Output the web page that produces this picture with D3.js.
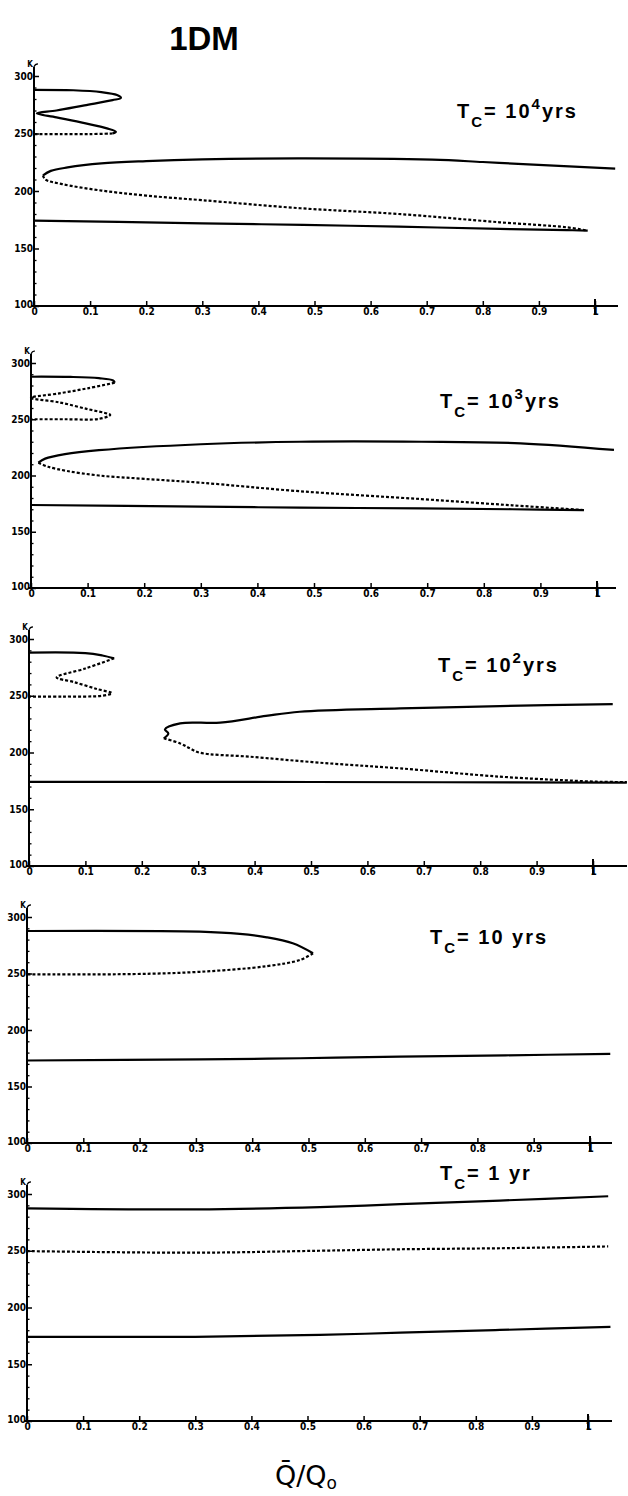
<!DOCTYPE html>
<html>
<head>
<meta charset="utf-8">
<script src="https://cdn.jsdelivr.net/npm/d3@7"></script>
<style>
  body { margin: 0; background: #fff; }
  svg { display: block; }
</style>
</head>
<body>
<div id="chart"></div>
<script>
// axes shared by the five panels
const xTicks = [0, 0.1, 0.2, 0.3, 0.4, 0.5, 0.6, 0.7, 0.8, 0.9, 1];
const xTickLabels = ["0", "0.1", "0.2", "0.3", "0.4", "0.5", "0.6", "0.7", "0.8", "0.9", "1"];
const yTicks = [100, 150, 200, 250, 300];
const yMinorTicks = [110, 120, 130, 140, 160, 170, 180, 190, 210, 220, 230, 240, 260, 270, 280, 290];

// T_c labels
const tcBase = ["10", "10", "10", "10", "1"];
const tcExp = ["4", "3", "2", "", ""];
const tcUnit = ["yrs", "yrs", "yrs", " yrs", " yr"];

// curves: [Q/Q0, T (K)]
// T_c = 10^4 yrs
const p1TopSolid = [[0,288],[0.07,287.6],[0.12,286],[0.148,283.5],[0.155,281],[0.14,279],[0.09,274.5],[0.04,270],[0.005,267.5],[0.04,264],[0.09,259],[0.13,254.5],[0.146,251.5],[0.14,250]];
const p1TopDashed = [[0.14,250],[0.1,249.5],[0.05,249.5],[0,249.5]];
const p1UpperSolid = [[0.016,213.5],[0.03,217.5],[0.06,220.5],[0.12,224],[0.2,226],[0.3,227.5],[0.47,228.4],[0.71,227.3],[0.8,225.2],[0.89,222.9],[1.036,219.4]];
const p1MidDashed = [[0.016,213.5],[0.02,210],[0.05,206],[0.12,200.4],[0.2,196],[0.3,192],[0.475,185],[0.65,180],[0.83,172.8],[0.95,168.4],[0.987,165.5]];
const p1LowerSolid = [[0,174.2],[0.15,173.2],[0.3,171.9],[0.48,170.5],[0.65,169],[0.83,167],[0.95,166],[0.987,165.5]];

// T_c = 10^3 yrs
const p2TopSolid = [[0,287.8],[0.07,287.6],[0.12,286.5],[0.145,284.5],[0.148,282.5]];
const p2TopDashed = [[0.148,282.5],[0.1,277.5],[0.05,273],[0,269],[0.05,265],[0.1,259],[0.135,255],[0.14,253.8],[0.12,250.3],[0.06,250],[0,250]];
const p2UpperSolid = [[0.013,211.4],[0.025,215],[0.06,219],[0.12,222.5],[0.3,227.8],[0.475,230],[0.69,230],[0.865,228.6],[1.03,222.7]];
const p2MidDashed = [[0.013,211.4],[0.03,207.8],[0.064,204],[0.12,200],[0.2,197],[0.3,193.6],[0.475,186],[0.69,179],[0.85,173.5],[0.977,169.3]];
const p2LowerSolid = [[0,173.8],[0.3,172.4],[0.475,171.4],[0.69,170.8],[0.85,170],[0.977,169.3]];

// T_c = 10^2 yrs
const p3TopSolid = [[0,288],[0.1,287.6],[0.13,285.5],[0.151,283]];
const p3TopDashed = [[0.151,283],[0.1,274],[0.049,266.2],[0.08,262],[0.12,256],[0.147,252.2],[0.13,250],[0.06,249.3],[0,249.3]];
const p3UpperSolid = [[0.239,212.5],[0.247,216.8],[0.241,220.3],[0.268,225.7],[0.339,226.3],[0.42,232.2],[0.48,235.9],[0.658,238.8],[0.835,240.9],[1.035,242.7]];
const p3MidDashed = [[0.239,212.5],[0.268,208],[0.285,203.7],[0.303,199.8],[0.392,196.3],[0.516,191],[0.658,186],[0.835,178.7],[0.95,175.5],[1.012,174.2],[1.06,174]];
const p3LowerSolid = [[0,174.2],[0.5,174],[1.06,173.4]];

// T_c = 10 yrs
const p4TopSolid = [[0,287.6],[0.307,287],[0.378,285],[0.426,282],[0.472,276.7],[0.508,267.9]];
const p4TopDashed = [[0.508,267.9],[0.485,262],[0.426,256.5],[0.307,251.5],[0.188,249.5],[0,249.3]];
const p4LowerSolid = [[0,173],[0.307,174],[0.485,175],[0.662,176.4],[0.85,177.6],[1.036,178.8]];

// T_c = 1 yr
const p5TopSolid = [[0,287.4],[0.3,286.5],[0.522,288.5],[0.665,291],[0.843,294.2],[1.036,298]];
const p5MidDashed = [[0,249.7],[0.3,248.3],[0.52,250],[0.665,251.3],[0.843,252.2],[1.036,253.8]];
const p5LowerSolid = [[0,174.2],[0.3,174.2],[0.522,175.8],[0.665,177.8],[0.843,180.2],[1.04,183]];

const panelCurves = [
  [[p1TopSolid, false], [p1TopDashed, true], [p1UpperSolid, false], [p1MidDashed, true], [p1LowerSolid, false]],
  [[p2TopSolid, false], [p2TopDashed, true], [p2UpperSolid, false], [p2MidDashed, true], [p2LowerSolid, false]],
  [[p3TopSolid, false], [p3TopDashed, true], [p3UpperSolid, false], [p3MidDashed, true], [p3LowerSolid, false]],
  [[p4TopSolid, false], [p4TopDashed, true], [p4LowerSolid, false]],
  [[p5TopSolid, false], [p5MidDashed, true], [p5LowerSolid, false]]
];

// pixel frame of each panel (hand-placed like the original plate)
const frames = [
  {x0: 34, x1: 595, y100: 306, y300: 76, xEnd: 618, lx: 457, ly: 118},
  {x0: 31, x1: 597, y100: 588, y300: 363, xEnd: 616, lx: 440, ly: 408},
  {x0: 29, x1: 593, y100: 866, y300: 639, xEnd: 627, lx: 438, ly: 672},
  {x0: 27, x1: 590, y100: 1143, y300: 917, xEnd: 612, lx: 430, ly: 944},
  {x0: 27, x1: 588, y100: 1421, y300: 1194, xEnd: 612, lx: 440, ly: 1180}
];

const W = 628, H = 1496;
const tickFont = "'Liberation Sans Narrow', 'DejaVu Sans Condensed', sans-serif";

const svg = d3.select("#chart").append("svg")
    .attr("width", W)
    .attr("height", H);

svg.append("text")
    .attr("x", 204)
    .attr("y", 50)
    .attr("text-anchor", "middle")
    .style("font-family", "'Liberation Sans', Arial, sans-serif")
    .style("font-weight", "bold")
    .style("font-size", "33px")
    .text("1DM");

panelCurves.forEach((curves, i) => {
    const f = frames[i];
    const x = d3.scaleLinear().domain([0, 1]).range([f.x0, f.x1]);
    const y = d3.scaleLinear().domain([100, 300]).range([f.y100, f.y300]);
    const g = svg.append("g");

    // x axis: ticks point up, labels below
    const gx = g.append("g")
        .attr("transform", `translate(0,${f.y100})`)
        .call(d3.axisBottom(x)
            .tickValues(xTicks)
            .tickFormat((d, j) => xTickLabels[j])
            .tickSize(-5)
            .tickSizeOuter(0)
            .tickPadding(2));
    gx.select(".domain").remove();
    gx.selectAll(".tick line").attr("stroke-width", 1.5);
    gx.selectAll(".tick text")
        .style("font-family", tickFont)
        .style("font-weight", "bold")
        .style("font-size", "10px");
    g.append("line")
        .attr("x1", f.x0 - 3).attr("x2", f.xEnd)
        .attr("y1", f.y100).attr("y2", f.y100)
        .attr("stroke", "#000").attr("stroke-width", 2);

    // y axis: ticks point right, labels left
    const gy = g.append("g")
        .attr("transform", `translate(${f.x0},0)`)
        .call(d3.axisLeft(y)
            .tickValues(yTicks)
            .tickSize(-5)
            .tickSizeOuter(0)
            .tickPadding(1));
    gy.select(".domain").remove();
    gy.selectAll(".tick line").attr("stroke-width", 1.5);
    gy.selectAll(".tick text")
        .style("font-family", tickFont)
        .style("font-weight", "bold")
        .style("font-size", "10px");
    // origin label sits a bit higher
    gy.selectAll(".tick text").filter(d => d === 100).attr("dy", "0.1em");

    const gm = g.append("g")
        .attr("transform", `translate(${f.x0},0)`)
        .call(d3.axisLeft(y).tickValues(yMinorTicks).tickSize(-2.5).tickFormat(""));
    gm.select(".domain").remove();
    gm.selectAll(".tick line").attr("stroke-width", 1.3);

    g.append("line")
        .attr("x1", f.x0).attr("x2", f.x0)
        .attr("y1", f.y100 + 1).attr("y2", y(308))
        .attr("stroke", "#000").attr("stroke-width", 2);
    g.append("path")
        .attr("d", `M${f.x0},${y(308)} q1,-3 4,-3`)
        .attr("fill", "none").attr("stroke", "#000").attr("stroke-width", 1.2);
    g.append("text")
        .attr("x", f.x0 - 4)
        .attr("y", y(308))
        .attr("text-anchor", "middle")
        .style("font-family", tickFont)
        .style("font-weight", "bold")
        .style("font-size", "8px")
        .text("K");

    // tall mark at Q/Q0 = 1
    g.append("line")
        .attr("x1", x(1)).attr("x2", x(1))
        .attr("y1", f.y100 - 7).attr("y2", f.y100 + 9)
        .attr("stroke", "#000").attr("stroke-width", 2);

    // curves
    const line = d3.line()
        .x(d => x(d[0]))
        .y(d => y(d[1]))
        .curve(d3.curveCatmullRom.alpha(0.5));

    g.selectAll("path.curve")
        .data(curves)
        .join("path")
        .attr("class", "curve")
        .attr("d", d => line(d[0]))
        .attr("fill", "none")
        .attr("stroke", "#000")
        .attr("stroke-width", d => d[1] ? 2.2 : 2.2)
        .attr("stroke-dasharray", d => d[1] ? "3,2" : null)
        .attr("stroke-linejoin", "round");

    // T_c label
    const t = g.append("text")
        .attr("x", f.lx)
        .attr("y", f.ly)
        .style("font-family", "'Liberation Sans', Arial, sans-serif")
        .style("font-weight", "bold")
        .style("font-size", "20px")
        .style("letter-spacing", "2px");
    t.append("tspan").text("T");
    t.append("tspan").attr("dy", 9).style("font-size", "15px").text("C");
    t.append("tspan").attr("dy", -9).text("=  " + tcBase[i]);
    if (tcExp[i]) {
        t.append("tspan").attr("dy", -9).style("font-size", "15px").text(tcExp[i]);
        t.append("tspan").attr("dy", 9).text(tcUnit[i]);
    } else {
        t.append("tspan").text(tcUnit[i]);
    }
});

// x-axis title
const xt = svg.append("text")
    .attr("x", 275)
    .attr("y", 1485)
    .style("font-family", "'DejaVu Sans', sans-serif")
    .style("font-size", "27px");
xt.append("tspan").text("Q\u0304/Q");
xt.append("tspan").attr("dy", 4).style("font-size", "17px").text("o");
</script>
</body>
</html>
